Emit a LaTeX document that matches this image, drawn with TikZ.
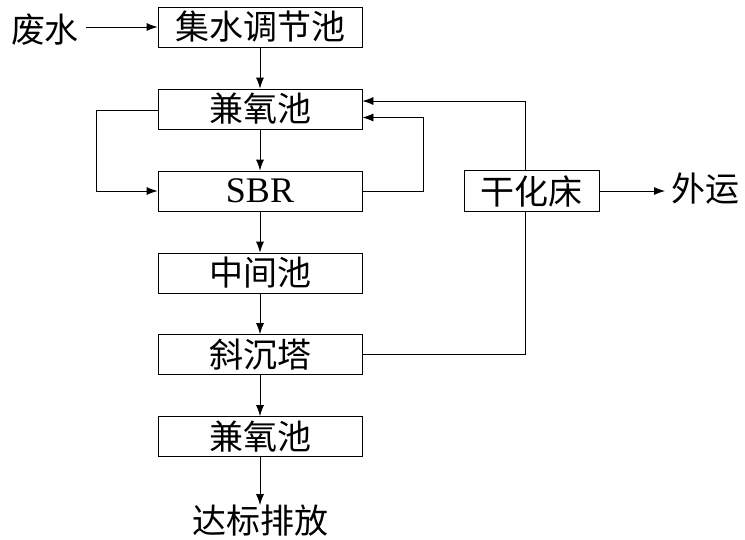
\documentclass[tikz,border=0pt]{standalone}
\usepackage{fontspec}
\setmainfont{Liberation Serif}
\newfontfamily\cjk{Noto Sans CJK SC}
\usetikzlibrary{arrows.meta}
\begin{document}
\begin{tikzpicture}[x=1pt,y=-1pt,
  box/.style={draw,line width=0.8pt,minimum width=204pt,minimum height=40pt,inner sep=0pt,font=\cjk\fontsize{34}{34}\selectfont},
  lbl/.style={inner sep=0pt,font=\cjk\fontsize{34}{34}\selectfont},
  arr/.style={line width=0.8pt,-{Latex[length=11pt,width=8pt]}},
  ln/.style={line width=0.8pt}]
\useasboundingbox (0,0) rectangle (745,539);
\node[box] (b1) at (260,27) {集水调节池};
\node[box] (b2) at (260,109) {兼氧池};
\node[box] (b3) at (260,191) {\fontspec{Liberation Serif}\fontsize{36}{36}\selectfont SBR};
\node[box] (b4) at (260,273) {中间池};
\node[box] (b5) at (260,354.5) {斜沉塔};
\node[box] (b6) at (260,436.5) {兼氧池};
\node[lbl] (out) at (260,521) {达标排放};
\node[lbl] (in) at (45,30) {废水};
\node[box,minimum width=135pt,minimum height=41pt] (dry) at (531.5,191) {干化床};
\node[lbl,anchor=west] (ship) at (671,189) {外运};
\draw[arr] (86,27) coordinate (inS) -- (b1.west);
\draw[arr] (b1) -- (b2);
\draw[arr] (b2) -- (b3);
\draw[arr] (b3) -- (b4);
\draw[arr] (b4) -- (b5);
\draw[arr] (b5) -- (b6);
\draw[arr] (b6) -- (out);
\coordinate (l1) at (96.5,110);
\draw[arr] (b2.west|-l1) -| (96.5,191) -- (b3.west);
\coordinate (r1) at (423,117.5);
\draw[arr] (b3.east) -| (r1) -- (b2.east|-r1);
\coordinate (r2) at (525.5,101);
\draw[arr] (dry.north-|r2) |- (b2.east|-r2);
\draw[ln] (b5.east) -| (dry.south-|r2);
\draw[arr] (dry.east) -- (665,191);
\end{tikzpicture}
\end{document}
